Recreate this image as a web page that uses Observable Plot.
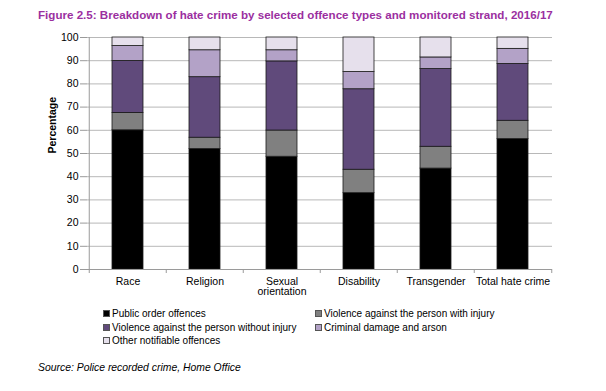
<!DOCTYPE html>
<html><head><meta charset="utf-8">
<script src="https://cdn.jsdelivr.net/npm/d3@7"></script>
<script src="https://cdn.jsdelivr.net/npm/@observablehq/plot@0.6"></script>
<style>
html,body{margin:0;padding:0;background:#fff}
body{font-family:"Liberation Sans",Arial,sans-serif;width:606px;height:391px;position:relative;overflow:hidden}
#title{position:absolute;left:38px;top:8px;font-size:11.6px;font-weight:bold;color:#9b2f9f;white-space:nowrap}
#chart{position:absolute;left:0;top:26px}
.li{position:absolute;font-size:10px;color:#000;white-space:nowrap;display:flex;align-items:center;height:12px}
.sw{width:5px;height:5px;border:1px solid #555;margin-right:2px;flex:none}
#source{position:absolute;left:38px;top:362px;font-size:10.4px;font-style:italic;color:#000}
</style></head><body>
<div id="title">Figure 2.5: Breakdown of hate crime by selected offence types and monitored strand, 2016/17</div>
<div id="chart"></div>
<div id="legend"></div>
<div id="source">Source: Police recorded crime, Home Office</div>
<script>
const categories = ["Race", "Religion", "Sexual orientation", "Disability", "Transgender", "Total hate crime"];
const seriesNames = [
  "Public order offences",
  "Violence against the person with injury",
  "Violence against the person without injury",
  "Criminal damage and arson",
  "Other notifiable offences"
];
const publicOrder    = [60.0, 51.9, 48.6, 32.9, 43.5, 56.2];
const withInjury     = [7.5, 4.9, 11.3, 10.1, 9.4, 7.9];
const withoutInjury  = [22.4, 26.1, 29.8, 34.7, 33.5, 24.5];
const criminalDamage = [6.4, 11.6, 4.8, 7.4, 5.0, 6.5];
const otherOffences  = [3.7, 5.5, 5.5, 14.9, 8.6, 4.9];
const yTicks = [0, 10, 20, 30, 40, 50, 60, 70, 80, 90, 100];
const seriesColors = ["#000000", "#808080", "#604a7b", "#b3a2c7", "#e6e0ec"];

const seriesValues = [publicOrder, withInjury, withoutInjury, criminalDamage, otherOffences];
const rows = [];
seriesNames.forEach((s, si) => {
  categories.forEach((c, ci) => rows.push({category: c, series: s, value: seriesValues[si][ci]}));
});

const W = 606, H = 300, mL = 87, mR = 54;
const step = (W - mL - mR) / categories.length;

const chart = Plot.plot({
  width: W, height: H,
  marginLeft: mL, marginRight: mR, marginTop: 11, marginBottom: 57,
  style: {fontFamily: "'Liberation Sans', Arial, sans-serif", fontSize: "10px", color: "#000", background: "#fff"},
  x: {domain: categories, paddingInner: 0.6, paddingOuter: 0.3, label: null},
  y: {domain: [0, 100], label: null},
  color: {domain: seriesNames, range: seriesColors},
  marks: [
    Plot.gridY(yTicks, {stroke: "#b8b8b8", strokeOpacity: 1, strokeWidth: 1}),
    Plot.axisY(yTicks, {tickSize: 7, tickPadding: 2, stroke: "#9a9a9a", fontSize: 10.5, fill: "#000", label: null}),
    Plot.ruleX(categories.slice(0, 1), {x: d => d, dx: -step / 2, y1: 0, y2: 100, stroke: "#9a9a9a"}),
    Plot.barY(rows, {x: "category", y: "value", fill: "series", stroke: "#1a1a1a", strokeWidth: 0.8, order: seriesNames}),
    Plot.ruleY([0], {stroke: "#9a9a9a"}),
    Plot.ruleX(categories, {x: d => d, dx: -step / 2, y1: 0, y2: 0, insetBottom: -4, stroke: "#9a9a9a"}),
    Plot.ruleX(categories.slice(-1), {x: d => d, dx: step / 2, y1: 0, y2: 0, insetBottom: -4, stroke: "#9a9a9a"}),
    Plot.axisX({tickSize: 0, tickPadding: 8, fontSize: 10.5, fill: "#000", label: null,
      tickFormat: d => d === "Sexual orientation" ? "Sexual\norientation" : d}),
    Plot.text(["Percentage"], {frameAnchor: "left", dx: -35, rotate: -90, fontWeight: "bold", fontSize: 10.5, fill: "#000"})
  ]
});
document.getElementById("chart").appendChild(chart);

const legend = document.getElementById("legend");
const legendPos = [[103, 307], [315, 307], [103, 321], [315, 321], [103, 334]];
seriesNames.forEach((s, i) => {
  const d = document.createElement("div");
  d.className = "li";
  d.style.left = legendPos[i][0] + "px";
  d.style.top = legendPos[i][1] + "px";
  const sw = document.createElement("span");
  sw.className = "sw";
  sw.style.background = seriesColors[i];
  d.appendChild(sw);
  d.appendChild(document.createTextNode(s));
  legend.appendChild(d);
});
</script>
</body></html>
